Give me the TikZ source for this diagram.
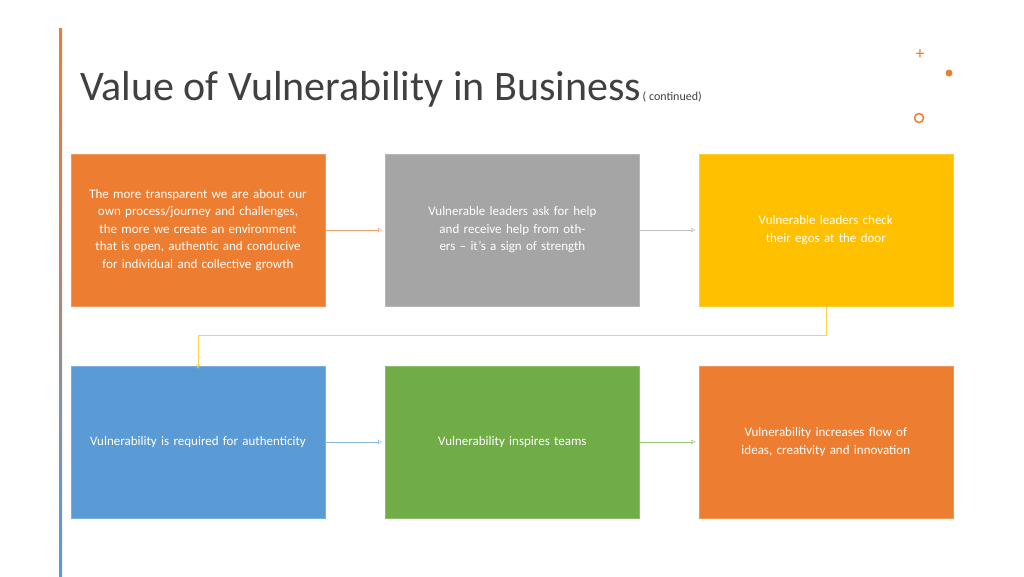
\documentclass[tikz,border=0pt]{standalone}
\usepackage{fontspec}
\setmainfont{Carlito}
\usetikzlibrary{positioning}
\usetikzlibrary{arrows.meta}
\definecolor{accorange}{HTML}{ED7D31}
\definecolor{accgray}{HTML}{A5A5A5}
\definecolor{accyellow}{HTML}{FFC000}
\definecolor{accblue}{HTML}{5B9BD5}
\definecolor{accgreen}{HTML}{70AD47}
\definecolor{titlegray}{HTML}{404040}
\tikzset{
  card/.style={fill=#1,draw=#1!80!white,minimum width=254pt,minimum height=152pt,
    text width=230pt,align=center,text=white,font=\fontsize{13}{17.5}\selectfont,inner sep=0pt},
  arrow/.style={draw=#1!70!white,thin,-{Stealth[length=5pt,width=5pt,open]}}
}
\begin{document}
\begin{tikzpicture}[x=1pt,y=-1pt]
\useasboundingbox (0,0) rectangle (1024,576);
\shade[top color=accorange,bottom color=accblue] (59,28) rectangle (62,576);

%Title
\node[anchor=base west,inner sep=0pt,text=titlegray,font=\fontsize{42}{42}\selectfont] (title) at (80,100) {Value of Vulnerability in Business};
\node[anchor=base west,inner sep=1pt,text=titlegray,font=\fontsize{12}{12}\selectfont] (cont) at (title.base east) {( continued)};

%Decoration
\node[text=accorange,font=\fontsize{18}{18}\selectfont,inner sep=0pt] (plus) at (920,55) {+};
\fill[accorange] (949,73) circle (3.5);
\draw[accorange,line width=1.5pt] (919,118) circle (4.5);

%Nodes
\node[card=accorange] (c1) at (198,230) {The more transparent we are about our own process/journey and challenges, the more we create an environment that is open, authentic and conducive for individual and collective growth};
\node[card=accgray,right=60pt of c1] (c2) {Vulnerable leaders ask for help and receive help from others -- it's a sign of strength};
\node[card=accyellow,right=59pt of c2] (c3) {Vulnerable leaders check their egos at the door};
\node[card=accblue] (c4) at (198,442) {Vulnerability is required for authenticity};
\node[card=accgreen,right=60pt of c4] (c5) {Vulnerability inspires teams};
\node[card=accorange,right=59pt of c5] (c6) {Vulnerability increases flow of ideas, creativity and innovation};

%Lines
\draw[arrow=accorange] (c1.east) -- ([xshift=-3pt]c2.west);
\draw[arrow=accgray] (c2.east) -- ([xshift=-3pt]c3.west);
\draw[arrow=accyellow] (c3.south) -- ++(0,29) -| ([yshift=-3pt]c4.north);
\draw[arrow=accblue] (c4.east) -- ([xshift=-3pt]c5.west);
\draw[arrow=accgreen] (c5.east) -- ([xshift=-3pt]c6.west);
\end{tikzpicture}
\end{document}
